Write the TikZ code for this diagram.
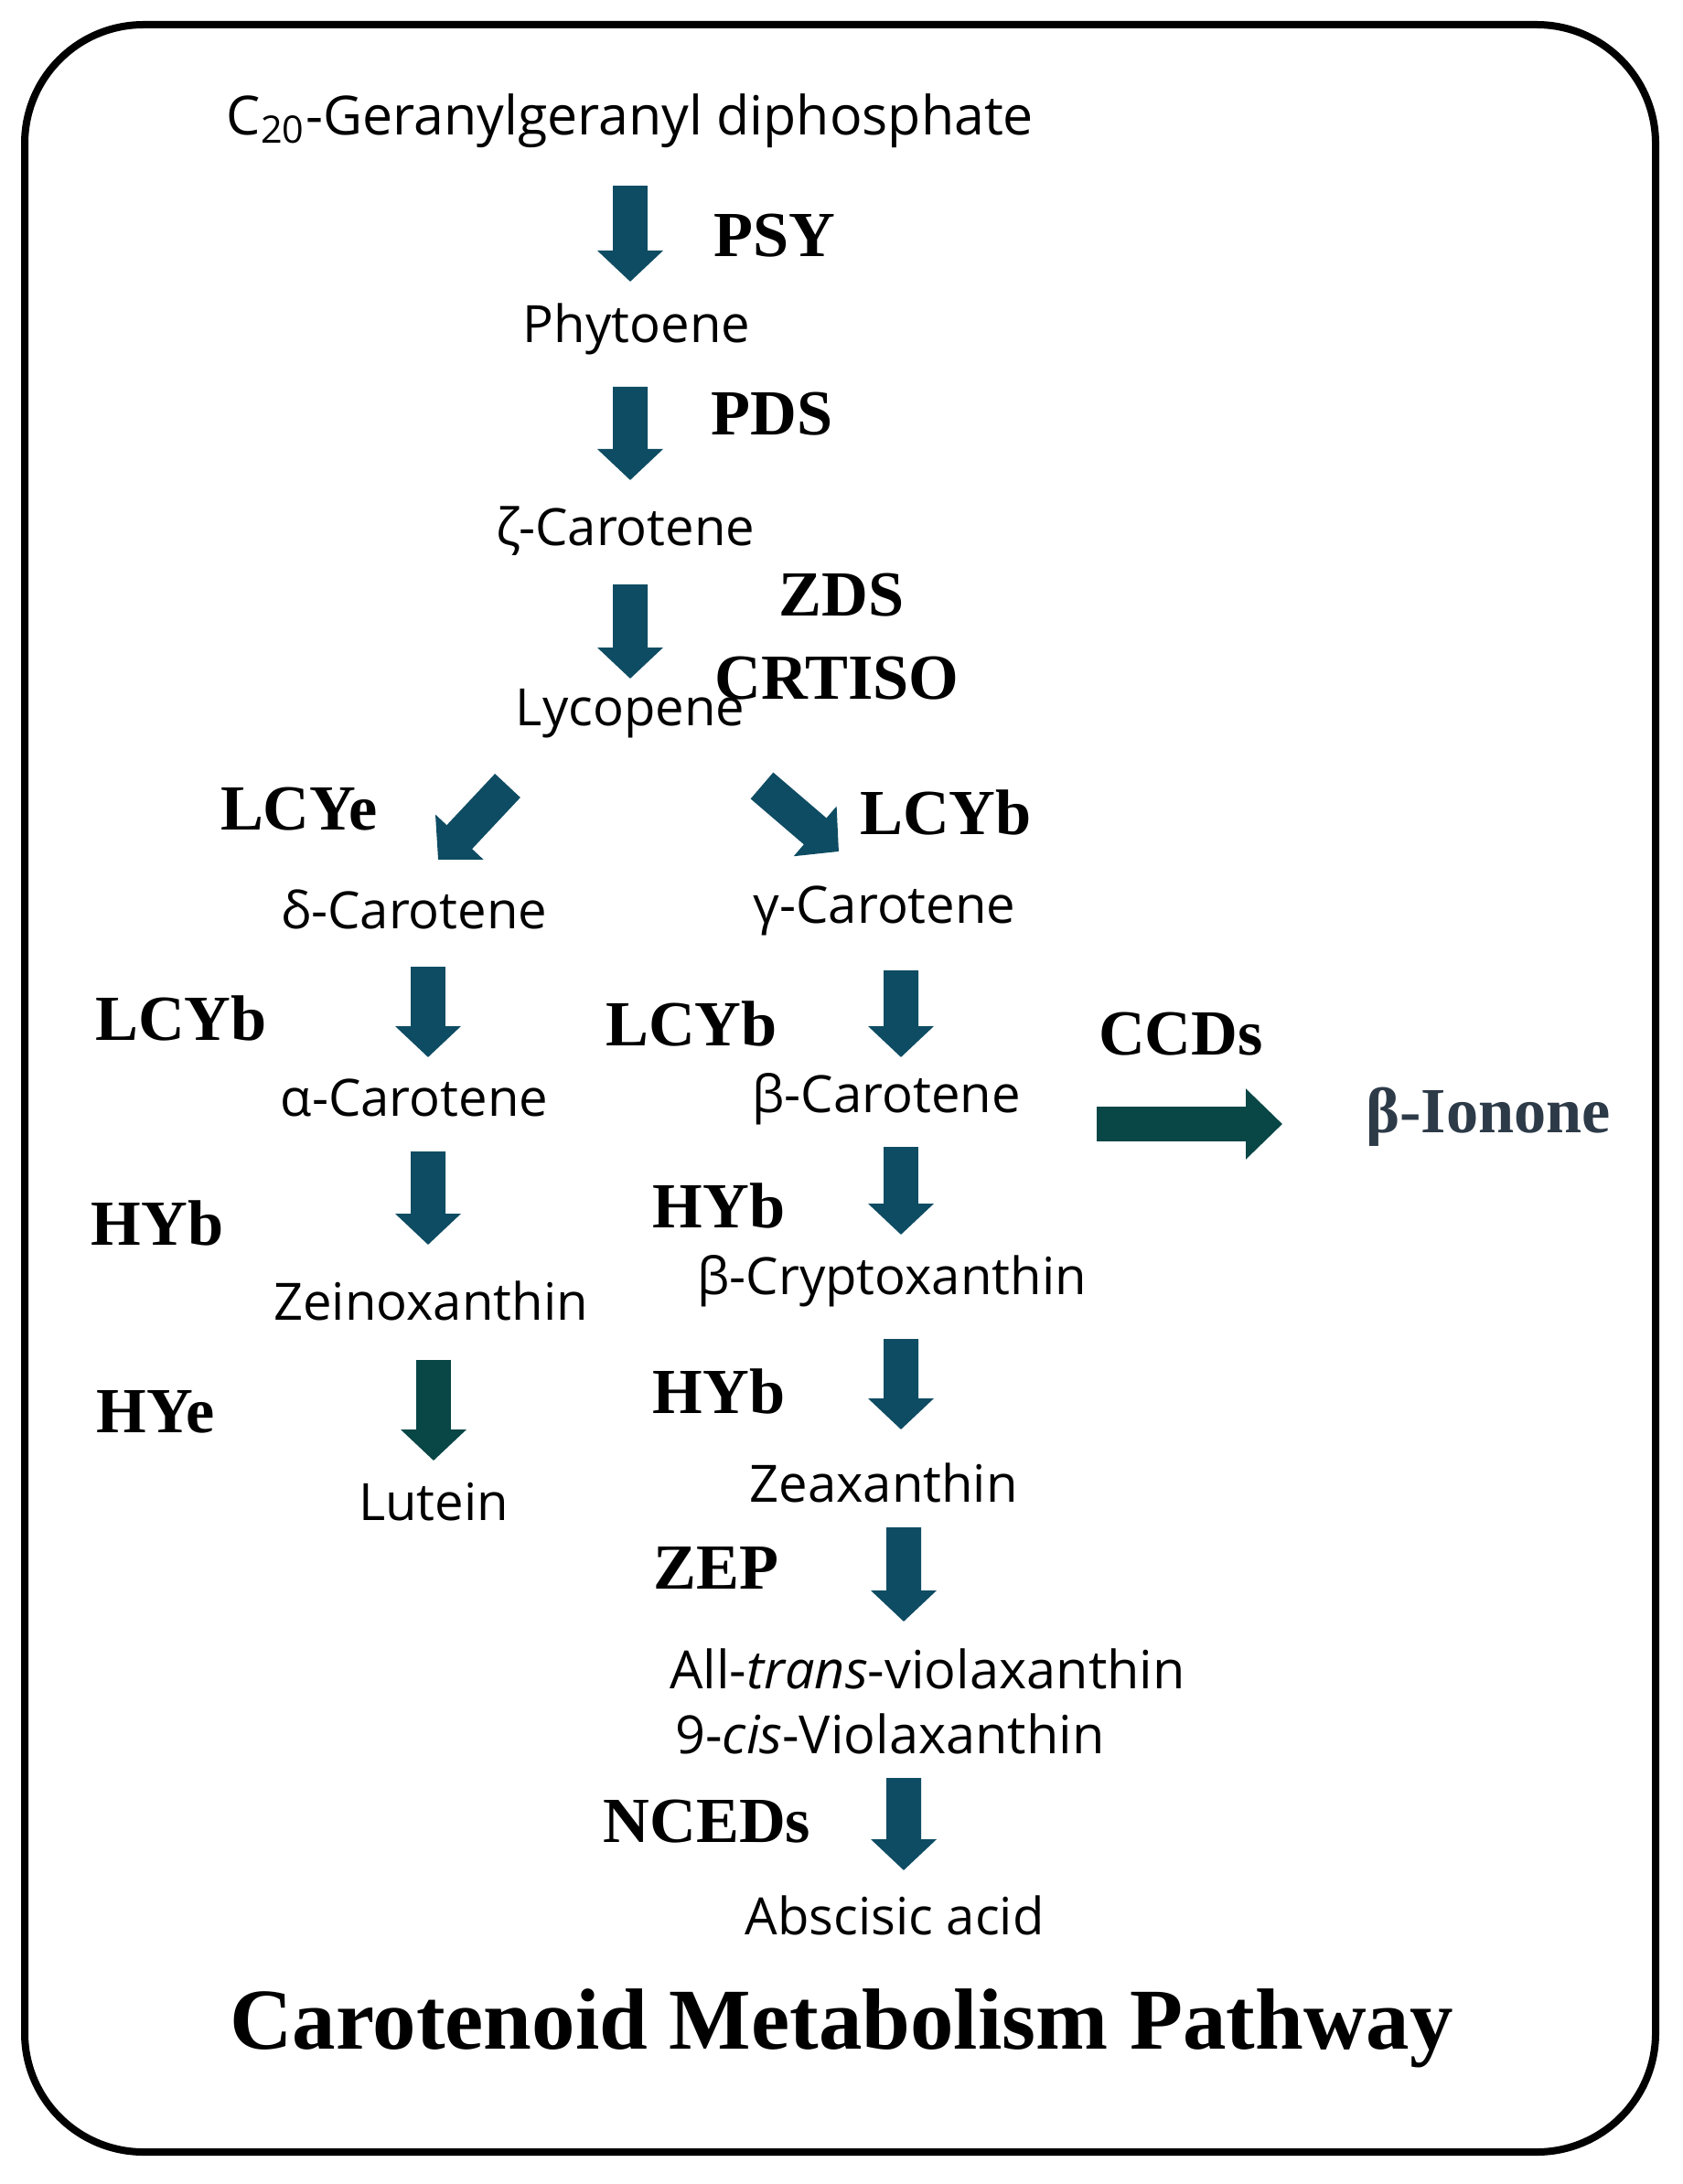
\documentclass[tikz,border=0pt]{standalone}
\usepackage{fontspec}
\setmainfont{Open Sans}
\newfontfamily\enzfont{Liberation Serif}
\usetikzlibrary{positioning,arrows.meta}
\definecolor{flowblue}{RGB}{14,76,99}
\definecolor{flowdark}{RGB}{9,70,70}
\definecolor{ionegray}{RGB}{45,58,72}

\begin{document}
\begin{tikzpicture}[
    metab/.style={font=\fontsize{16}{19}\selectfont, inner sep=0pt},
    enz/.style={font=\enzfont\bfseries\fontsize{20}{24}\selectfont, inner sep=0pt},
    flow/.style={color=flowblue, line width=0.38cm, -{Triangle[width=0.70cm,length=0.34cm]}},
    flowdk/.style={flow, color=flowdark},
    bigflow/.style={color=flowdark, line width=0.38cm, -{Triangle[width=0.75cm,length=0.40cm]}}
  ]
  \useasboundingbox (0,0) rectangle (18.4,-23.88);
  \draw[line width=0.08cm, rounded corners=1.3cm] (0.27,-0.27) rectangle (18.10,-23.53);

  % metabolites
  \node[metab, font=\fontsize{16.8}{20}\selectfont] (ggpp) at (6.89,-1.32) {C\textsubscript{20}-Geranylgeranyl diphosphate};
  \node[metab] (phy)    at (6.96,-3.60)  {Phytoene};
  \node[metab] (zeta)   at (6.84,-5.81)  {ζ-Carotene};
  \node[metab] (lyc)    at (6.89,-7.80)  {Lycopene};
  \node[metab] (delta)  at (4.53,-9.94)  {δ-Carotene};
  \node[metab] (gamma)  at (9.67,-9.96)  {γ-Carotene};
  \node[metab] (alpha)  at (4.53,-12.00) {α-Carotene};
  \node[metab] (beta)   at (9.69,-12.02) {β-Carotene};
  \node[metab] (zein)   at (4.71,-14.22) {Zeinoxanthin};
  \node[metab] (crypt)  at (9.75,-14.01) {β-Cryptoxanthin};
  \node[metab] (lut)    at (4.74,-16.42) {Lutein};
  \node[metab] (zea)    at (9.66,-16.21) {Zeaxanthin};
  \node[metab, font=\fontsize{16.4}{19}\selectfont] (viola)  at (10.14,-18.25) {All-\textit{trans}-violaxanthin};
  \node[metab, font=\fontsize{16.4}{19}\selectfont] (cisvio) at (9.73,-18.96) {9-\textit{cis}-Violaxanthin};
  \node[metab] (aba)    at (9.78,-20.94) {Abscisic acid};
  \node[enz, text=ionegray] (ionone) at (16.27,-12.21) {β-Ionone};

  % enzymes
  \node[enz] (psy)    at (8.47,-2.58)  {PSY};
  \node[enz] (pds)    at (8.44,-4.53)  {PDS};
  \node[enz] (zds)    at (9.20,-6.51)  {ZDS};
  \node[enz] (crtiso) at (9.15,-7.42)  {CRTISO};
  \node[enz] (lcye)   at (3.27,-8.85)  {LCYe};
  \node[enz] (lcybR)  at (10.34,-8.88) {LCYb};
  \node[enz] (lcybL)  at (1.98,-11.13) {LCYb};
  \node[enz] (lcybM)  at (7.56,-11.19) {LCYb};
  \node[enz] (ccds)   at (12.91,-11.31) {CCDs};
  \node[enz] (hybL)   at (1.72,-13.37) {HYb};
  \node[enz] (hybM)   at (7.86,-13.18) {HYb};
  \node[enz] (hye)    at (1.70,-15.44) {HYe};
  \node[enz] (hybMM)  at (7.86,-15.21) {HYb};
  \node[enz] (zep)    at (7.83,-17.14) {ZEP};
  \node[enz] (nceds)  at (7.73,-19.92) {NCEDs};
  \node[enz, font=\enzfont\bfseries\fontsize{27}{32}\selectfont] (title) at (9.20,-22.18) {Carotenoid Metabolism Pathway};

  % main chain
  \draw[flow] ([yshift=-0.71cm]ggpp.center) -- ([xshift=-0.07cm,yshift=0.52cm]phy.center);
  \draw[flow] ([xshift=-0.07cm,yshift=-0.63cm]phy.center) -- ([xshift=0.05cm,yshift=0.56cm]zeta.center);
  \draw[flow] ([xshift=0.05cm,yshift=-0.58cm]zeta.center) -- ([yshift=0.38cm]lyc.center);
  % branch point
  \draw[flow] ([xshift=-1.34cm,yshift=-0.79cm]lyc.center) -- ([xshift=0.26cm,yshift=0.54cm]delta.center);
  \draw[flow] ([xshift=1.44cm,yshift=-0.79cm]lyc.center) -- ([xshift=-0.50cm,yshift=0.65cm]gamma.center);
  % alpha branch
  \draw[flow] ([xshift=0.15cm,yshift=-0.63cm]delta.center) -- ([xshift=0.15cm,yshift=0.44cm]alpha.center);
  \draw[flow] ([xshift=0.15cm,yshift=-0.59cm]alpha.center) -- ([xshift=-0.03cm,yshift=0.61cm]zein.center);
  \draw[flowdk] ([xshift=0.03cm,yshift=-0.65cm]zein.center) -- ([yshift=0.45cm]lut.center);
  % beta branch
  \draw[flow] ([xshift=0.18cm,yshift=-0.65cm]gamma.center) -- ([xshift=0.16cm,yshift=0.46cm]beta.center);
  \draw[flow] ([xshift=0.16cm,yshift=-0.52cm]beta.center) -- ([xshift=0.10cm,yshift=0.51cm]crypt.center);
  \draw[flow] ([xshift=0.10cm,yshift=-0.63cm]crypt.center) -- ([xshift=0.19cm,yshift=0.58cm]zea.center);
  \draw[flow] ([xshift=0.22cm,yshift=-0.49cm]zea.center) -- ([xshift=-0.26cm,yshift=0.52cm]viola.center);
  \draw[flow] ([xshift=0.15cm,yshift=-0.48cm]cisvio.center) -- ([xshift=0.10cm,yshift=0.49cm]aba.center);
  % cleavage
  \draw[bigflow] ([xshift=2.30cm,yshift=-0.27cm]beta.center) -- ([xshift=-2.25cm,yshift=-0.08cm]ionone.center);
\end{tikzpicture}
\end{document}
